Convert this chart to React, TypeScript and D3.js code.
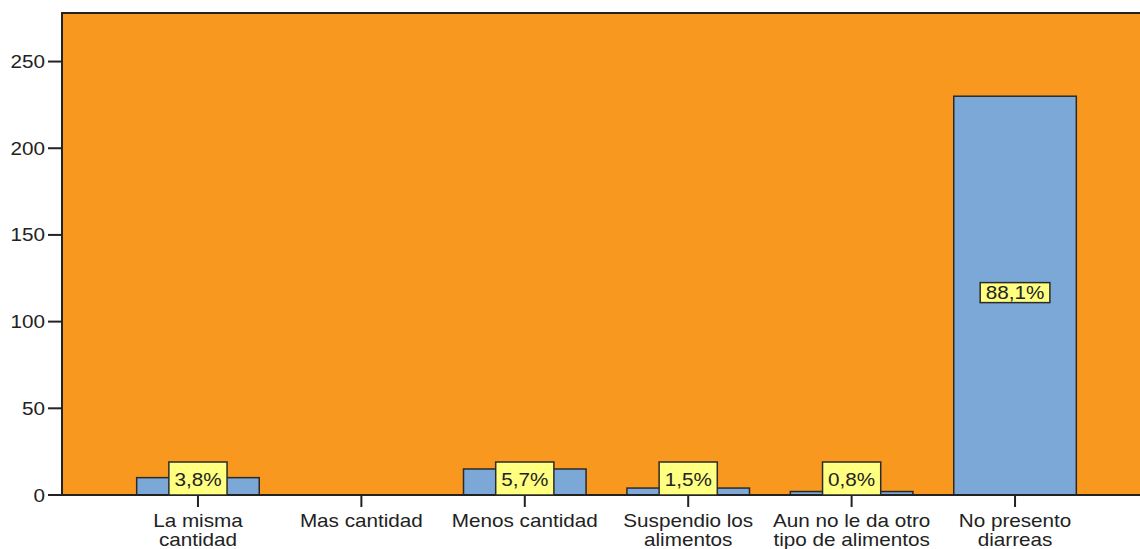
import React from "react";
import * as d3 from "d3";

const categories: string[][] = [
  ["La misma", "cantidad"],
  ["Mas cantidad"],
  ["Menos cantidad"],
  ["Suspendio los", "alimentos"],
  ["Aun no le da otro", "tipo de alimentos"],
  ["No presento", "diarreas"],
];
const counts: number[] = [10, 0, 15, 4, 2, 230];
const percentLabels: (string | null)[] = ["3,8%", null, "5,7%", "1,5%", "0,8%", "88,1%"];
const yTicks: number[] = [0, 50, 100, 150, 200, 250];

const W = 1140;
const H = 549;
const left = 62;
const right = 1151;
const top = 13;
const bottom = 495;
const FS = 18;
const SX = 1.15;
const FONT = "'Liberation Sans', Arial, sans-serif";
const TXT = "#222";

function T({ x, y, anchor, children }: { x: number; y: number; anchor: string; children: React.ReactNode }) {
  return (
    <text
      transform={`translate(${x},${y}) scale(${SX},1)`}
      textAnchor={anchor}
      fontSize={FS}
      fontFamily={FONT}
      fill={TXT}
    >
      {children}
    </text>
  );
}

export default function App() {
  const ids = categories.map((_, i) => String(i));
  const x = d3.scaleBand<string>().domain(ids).range([left, right]).paddingInner(0.25).paddingOuter(0.457);
  const y = d3.scaleLinear().domain([0, 278]).range([bottom, top]);
  const bw = x.bandwidth();

  const textW = (s: string) => {
    let w = 0;
    for (const c of s) {
      if (c === ",") w += 0.278;
      else if (c === "%") w += 0.889;
      else w += 0.556;
    }
    return w * FS * SX;
  };

  return (
    <svg width={W} height={H} style={{ position: "absolute", left: 0, top: 0 }}>
      <rect x={0} y={0} width={W} height={H} fill="#ffffff" />
      <rect x={left} y={top} width={right - left} height={bottom - top} fill="#F8981F" />
      {counts.map((v, i) => {
        const x0 = x(ids[i])!;
        if (v <= 0) return null;
        return (
          <rect key={i} x={x0} y={y(v)} width={bw} height={y(0) - y(v)} fill="#7BA8D6" stroke="#2a2a2a" strokeWidth={1.5} />
        );
      })}
      {/* frame */}
      <path d={`M${right},${top}H${left}V${bottom}H${right}`} fill="none" stroke="#222" strokeWidth={2} />
      {/* y axis ticks */}
      {yTicks.map((t) => (
        <g key={t}>
          <line x1={48} x2={left} y1={y(t)} y2={y(t)} stroke="#222" strokeWidth={2} />
          <T x={45} y={y(t) + 6.5} anchor="end">{t}</T>
        </g>
      ))}
      {/* x axis ticks and labels */}
      {categories.map((lines, i) => {
        const cx = x(ids[i])! + bw / 2;
        return (
          <g key={i}>
            <line x1={cx} x2={cx} y1={bottom} y2={bottom + 12} stroke="#222" strokeWidth={2} />
            {lines.map((l, j) => (
              <T key={j} x={cx} y={527 + j * 19} anchor="middle">{l}</T>
            ))}
          </g>
        );
      })}
      {/* percent labels */}
      {counts.map((v, i) => {
        const lab = percentLabels[i];
        if (!lab) return null;
        const cx = x(ids[i])! + bw / 2;
        const w = textW(lab) + 11;
        const barH = y(0) - y(v);
        let by: number, bh: number, ty: number;
        if (barH < 40) {
          by = bottom - 33;
          bh = 33;
          ty = bottom - 9;
        } else {
          const c = y(v / 2) - 3;
          by = c - 10;
          bh = 20;
          ty = c + 6.5;
        }
        return (
          <g key={i}>
            <rect x={cx - w / 2} y={by} width={w} height={bh} fill="#FFFF80" stroke="#2a2a2a" strokeWidth={1.5} />
            <T x={cx} y={ty} anchor="middle">{lab}</T>
          </g>
        );
      })}
    </svg>
  );
}
